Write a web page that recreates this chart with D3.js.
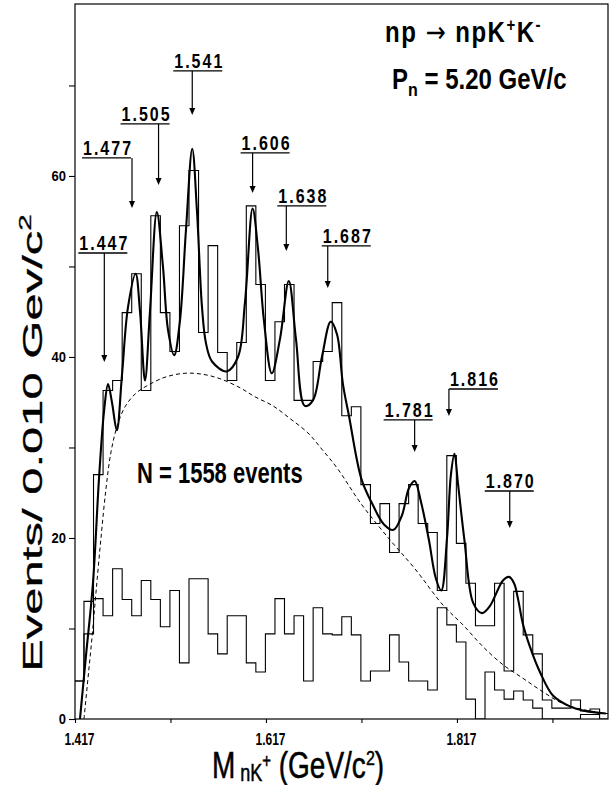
<!DOCTYPE html>
<html><head><meta charset="utf-8">
<script src="https://cdn.jsdelivr.net/npm/d3@7"></script>
<style>body{margin:0;background:#fff}svg{display:block}</style>
</head><body>
<svg id="chart" width="613" height="785"></svg>
<script>
// ---------- data ----------
const firstEdge = 1.4164;          // left edge of the first (partly hidden) bin, GeV
const binWidth = 0.010;            // GeV
const totalCounts = [4.2,13,27,36.3,37.4,44.9,49.2,36.3,55.6,44.9,40.6,54.5,60.6,42.7,52.3,40.5,37.4,41.6,56.7,48,37.4,43.9,48,35.2,35.2,39.5,40.6,46,33.5,34.5,25.9,21.6,23.8,18.4,23.8,25.9,21.6,20.6,14.2,29.1,19.4,15,10.3,10.3,15,5.3,14.1,9.3,7.2,2.1,1.2,1.2,2.1,0.9,1.1,0.6];
const lowerCounts = [4.2,9.4,13.3,11.4,16.6,13.2,11.4,15.3,13.2,10.2,14.2,6.2,15.5,15.5,9.4,7.2,11.4,11.4,6.2,5.2,9.4,13.3,9.4,11.4,4.2,12.3,9.4,9.3,11.3,9.3,4.2,5.3,5.3,9.3,6.3,4.2,4.2,3.2,12.3,10.4,8.5,2.2,0,5.2,3.2,2.2,3.1,2.1,1.2,0,0,0,0,0.5,0.5,0];
const fitMass  = [1.4222,1.4285,1.4358,1.4421,1.4474,1.4516,1.4557,1.4608,1.4662,1.4725,1.4805,1.4851,1.4903,1.4955,1.5027,1.5091,1.5144,1.5209,1.5269,1.5332,1.5398,1.5448,1.5500,1.5542,1.5605,1.5759,1.5877,1.5950,1.6030,1.6086,1.6149,1.6231,1.6317,1.6409,1.6484,1.6576,1.6662,1.6756,1.6848,1.6914,1.6976,1.7039,1.7170,1.7282,1.7406,1.7505,1.7594,1.7667,1.7727,1.7793,1.7876,1.7950,1.8006,1.8066,1.8107,1.8144,1.8181,1.8248,1.8341,1.8432,1.8516,1.8582,1.8652,1.8715,1.8768,1.8809,1.8861,1.8934,1.9039,1.9175,1.9353,1.9510,1.9730];
const fitValue = [0,7,15,26.5,34,37,35,31.9,38,45.5,49.2,45,37.4,45,56,50,43,40.2,44,54,63,56,45.5,41.5,39.5,38.4,40,46,56.4,52,44,38.2,42,48.4,42,34.6,35.2,40,43.9,42.5,37,33.5,26.5,23.8,21.5,20.9,22.5,25.5,26.3,24,19.8,15.5,14.2,20,27,29.3,26,19.8,12.8,11.7,12.5,13.9,15.3,15.7,15,13.3,10.5,8,5.2,2.6,1.4,0.9,0.6];
const bgMass  = [1.4264,1.4306,1.4348,1.4390,1.4442,1.4495,1.4547,1.4610,1.4694,1.4809,1.4955,1.5123,1.5322,1.5500,1.5688,1.5898,1.6055,1.6243,1.6421,1.6610,1.6756,1.6917,1.7165,1.7468,1.7730,1.8023,1.8233,1.8442,1.8652,1.8861,1.9071,1.9280,1.9510,1.9730];
const bgValue = [0,4.5,9,14,20,25.5,29.5,32.3,34.5,36,37,37.8,38.2,38.1,37.6,36.6,35.6,34.6,33.2,31.6,29.8,27.7,23.8,19.8,16.6,12.6,10.4,8.0,6.0,4.5,3.0,1.7,1.0,0.6];
const peakLabels = ["1.447","1.477","1.505","1.541","1.606","1.638","1.687","1.781","1.816","1.870"];
const peakArrowMass = [1.4477,1.4767,1.5045,1.5398,1.6030,1.6383,1.6817,1.7727,1.8086,1.8723];
const xTickValues = [1.417,1.517,1.617,1.717,1.817,1.917];
const xTickLabels = ["1.417","","1.617","","1.817",""];
const yTickValues = [0,10,20,30,40,50,60,70];
const yTickLabels = ["0","","20","","40","","60",""];

// ---------- layout (not data) ----------
const plot = {left:75, right:608, top:4, bottom:719};
const labelUnderline = [51.49,61.99,65.75,71.60,62.54,56.69,52.27,33.04,36.46,25.19]; // in count units
const labelTip       = [39.45,56.46,59.01,66.74,58.12,51.71,47.62,29.50,33.48,21.10];
const labelDx        = [-25,-49,-37,-18,-11,-8,-5,-30,1,-24];
const font = "Liberation Sans, Arial, sans-serif";

const svg = d3.select("#chart");
const x = d3.scaleLinear().domain([1.417, 1.9752]).range([plot.left, plot.right]);
const y = d3.scaleLinear().domain([0, 79.0]).range([plot.bottom, plot.top]);

svg.append("defs").append("clipPath").attr("id","clip")
  .append("rect").attr("x",plot.left).attr("y",plot.top)
  .attr("width",plot.right-plot.left).attr("height",plot.bottom-plot.top);

const g = svg.append("g").attr("clip-path","url(#clip)");

function stepPath(counts){
  let d = "M" + x(firstEdge) + "," + y(0);
  counts.forEach((c,i)=>{
    const a = x(firstEdge + i*binWidth), b = x(firstEdge + (i+1)*binWidth);
    d += "L" + a + "," + y(c) + "L" + b + "," + y(c);
  });
  d += "L" + x(firstEdge + counts.length*binWidth) + "," + y(0);
  return d;
}
g.append("path").attr("d", stepPath(lowerCounts)).attr("fill","none").attr("stroke","#000").attr("stroke-width",1.1);
g.append("path").attr("d", stepPath(totalCounts)).attr("fill","none").attr("stroke","#000").attr("stroke-width",1.1);

const bgLine = d3.line().x((d,i)=>x(bgMass[i])).y((d,i)=>y(bgValue[i])).curve(d3.curveCatmullRom.alpha(0.5));
g.append("path").attr("d", bgLine(bgMass)).attr("fill","none").attr("stroke","#000")
  .attr("stroke-width",1).attr("stroke-dasharray","4,3");

const fitLine = d3.line().x((d,i)=>x(fitMass[i])).y((d,i)=>y(fitValue[i])).curve(d3.curveCatmullRom.alpha(0.5));
g.append("path").attr("d", fitLine(fitMass)).attr("fill","none").attr("stroke","#000").attr("stroke-width",2.1);

// frame
svg.append("rect").attr("x",plot.left).attr("y",plot.top)
  .attr("width",plot.right-plot.left).attr("height",plot.bottom-plot.top)
  .attr("fill","none").attr("stroke","#000").attr("stroke-width",1.2);

// axes
const ya = svg.append("g").attr("transform","translate("+plot.left+",0)")
  .call(d3.axisLeft(y).tickValues(yTickValues).tickFormat((d,i)=>yTickLabels[i]).tickSize(6).tickPadding(3));
ya.select(".domain").remove();
ya.selectAll("line").attr("stroke-width",1.1);
ya.selectAll("text").attr("font-family",font).attr("font-size",13).attr("font-weight","bold").attr("fill","#000")
  .attr("transform","scale(1,1.15)").attr("dy","0.3em");
const xa = svg.append("g").attr("transform","translate(0,"+plot.bottom+")")
  .call(d3.axisBottom(x).tickValues(xTickValues).tickFormat((d,i)=>xTickLabels[i]).tickSize(4).tickPadding(11));
xa.select(".domain").remove();
xa.selectAll("line").attr("stroke-width",1.1);
xa.selectAll("text").attr("font-family",font).attr("font-size",12).attr("font-weight","bold").attr("fill","#000")
  .attr("y",0).attr("dy",0).attr("transform","translate(4,26) scale(1,1.3)");

// helper for vertically stretched text
function stext(px, py, sy){
  return svg.append("g").attr("transform","translate("+px+","+py+") scale(1,"+sy+")")
    .append("text").attr("x",0).attr("y",0).attr("font-family",font);
}

// peak annotations
peakLabels.forEach((lab,i)=>{
  const ax = x(peakArrowMass[i]), ul = y(labelUnderline[i]), tip = y(labelTip[i]);
  const tx = ax + labelDx[i];
  const t = stext(tx, ul-3, 1.3).attr("font-size",16).attr("font-weight","bold")
    .attr("letter-spacing","2px").text(lab);
  const w = t.node().getComputedTextLength();
  svg.append("line").attr("x1",tx-1).attr("x2",tx+w-2).attr("y1",ul).attr("y2",ul).attr("stroke","#000").attr("stroke-width",1.3);
  svg.append("line").attr("x1",ax).attr("x2",ax).attr("y1",ul).attr("y2",tip-5).attr("stroke","#000").attr("stroke-width",1.2);
  svg.append("path").attr("d","M"+(ax-3)+","+(tip-7)+"L"+(ax+3)+","+(tip-7)+"L"+ax+","+tip+"Z").attr("fill","#000");
});

// texts
const t1 = stext(385, 42, 1.2).attr("font-size",24).attr("font-weight","bold").attr("letter-spacing","1.5px");
t1.append("tspan").text("np ");
t1.append("tspan").attr("font-family","DejaVu Sans, sans-serif").attr("font-weight","normal").text("\u2192");
t1.append("tspan").text(" npK");
t1.append("tspan").attr("font-size",15).attr("dy",-9).text("+");
t1.append("tspan").attr("dy",9).text("K");
t1.append("tspan").attr("font-size",15).attr("dy",-9).text("-");

const t2 = stext(392, 89, 1.2).attr("font-size",24).attr("font-weight","bold");
t2.append("tspan").text("P");
t2.append("tspan").attr("font-size",16).attr("dy",6).text("n");
t2.append("tspan").attr("dy",-6).text(" = 5.20 GeV/c");

stext(137, 483, 1.3).attr("font-size",22).attr("font-weight","bold").text("N = 1558 events");

const xt = stext(298, 778, 1.3).attr("text-anchor","middle").attr("font-size",28)
  .attr("stroke","#000").attr("stroke-width",0.4);
xt.append("tspan").text("M");
xt.append("tspan").attr("font-size",18).attr("dy",2).text(" nK");
xt.append("tspan").attr("font-size",15).attr("dy",-10).text("+");
xt.append("tspan").attr("dy",8).text(" (GeV/c");
xt.append("tspan").attr("font-size",16).attr("dy",-10).text("2");
xt.append("tspan").attr("dy",10).text(")");

const yt = svg.append("g").attr("transform","translate(42,443) rotate(-90) scale(1.75,1)")
  .append("text").attr("text-anchor","middle").attr("font-family",font).attr("font-size",28)
  .attr("stroke","#000").attr("stroke-width",0.3);
yt.append("tspan").text("Events/ 0.010 Gev/c");
yt.append("tspan").attr("font-size",17).attr("dy",-11).text("2");
</script>
</body></html>
